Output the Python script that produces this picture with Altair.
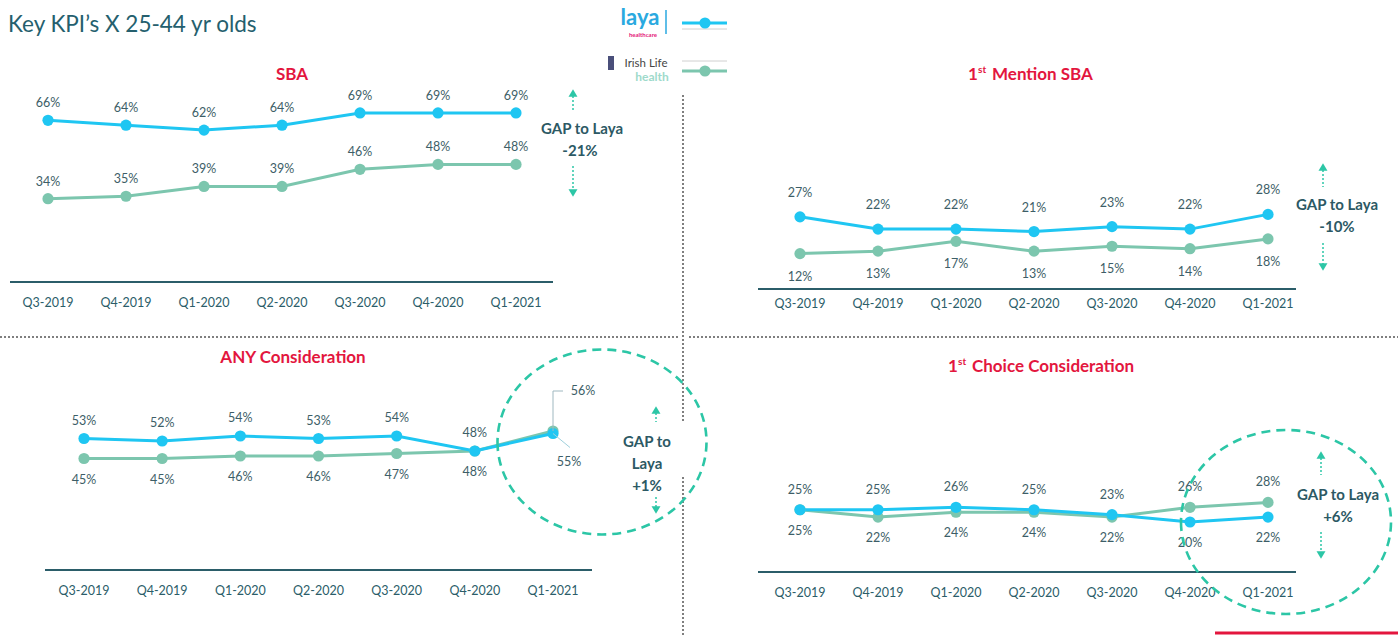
import altair as alt
import pandas as pd

# ---------------- data ----------------
quarters = ["Q3-2019", "Q4-2019", "Q1-2020", "Q2-2020", "Q3-2020", "Q4-2020", "Q1-2021"]
series_names = ["Irish Life Health", "Laya"]

sba_laya = [66, 64, 62, 64, 69, 69, 69]
sba_irish = [34, 35, 39, 39, 46, 48, 48]
first_mention_laya = [27, 22, 22, 21, 23, 22, 28]
first_mention_irish = [12, 13, 17, 13, 15, 14, 18]
any_laya = [53, 52, 54, 53, 54, 48, 55]
any_irish = [45, 45, 46, 46, 47, 48, 56]
first_choice_laya = [25, 25, 26, 25, 23, 20, 22]
first_choice_irish = [25, 22, 24, 24, 22, 26, 28]

main_title = "Key KPI\u2019s X 25-44 yr olds"

# ---------------- styles ----------------
LAYA = "#1fc6f2"
IRISH = "#7cc6ae"
LABEL = "#3d5e67"
AXIS = "#2b5d69"
RED = "#e3163e"
TEAL = "#2cc6a6"
GAPTXT = "#2c5964"
FONT = "Lato"

ONE = alt.Data(values=[{}])


def txt(s, x, y, size=12, color=LABEL, weight="normal", align="center", baseline="middle"):
    return alt.Chart(ONE).mark_text(
        text=s, font=FONT, fontSize=size, color=color, fontWeight=weight,
        align=align, baseline=baseline,
    ).encode(x=alt.value(x), y=alt.value(y))


def hrule(x0, x1, y, color, width=1.5, dash=None):
    kw = dict(color=color, strokeWidth=width)
    if dash:
        kw["strokeDash"] = dash
    return alt.Chart(ONE).mark_rule(**kw).encode(x=alt.value(x0), x2=alt.value(x1), y=alt.value(y))


def vrule(x, y0, y1, color, width=1.5, dash=None):
    kw = dict(color=color, strokeWidth=width)
    if dash:
        kw["strokeDash"] = dash
    return alt.Chart(ONE).mark_rule(**kw).encode(x=alt.value(x), y=alt.value(y0), y2=alt.value(y1))


def arrows(x, top, mid_top, mid_bottom, bottom):
    up_head = alt.Chart(ONE).mark_point(shape="triangle-up", filled=True, size=80, color=TEAL, opacity=1).encode(
        x=alt.value(x), y=alt.value(top + 5))
    down_head = alt.Chart(ONE).mark_point(shape="triangle-down", filled=True, size=80, color=TEAL, opacity=1).encode(
        x=alt.value(x), y=alt.value(bottom - 5))
    return [vrule(x, top + 8, mid_top, TEAL, 1.5, [2, 2]), up_head,
            vrule(x, mid_bottom, bottom - 8, TEAL, 1.5, [2, 2]), down_head]


def ellipse(cx, cy, w, h):
    ratio = h / w
    path = f"M -1 0 A 1 {ratio:.3f} 0 1 0 1 0 A 1 {ratio:.3f} 0 1 0 -1 0 Z"
    return alt.Chart(ONE).mark_point(
        shape=path, size=w * w, filled=False, color=TEAL, strokeWidth=2.6,
        strokeDash=[9, 6], opacity=1,
    ).encode(x=alt.value(cx), y=alt.value(cy))


def panel(laya, irish, x_range, y_range, y_domain, axis_x, axis_y, tick_y,
          above_dy, below_dy, irish_always_above=False, callout_last=False):
    rows = []
    for name, vals, other in [("Irish Life Health", irish, laya), ("Laya", laya, irish)]:
        for i, q in enumerate(quarters):
            v, o = vals[i], other[i]
            if name == "Laya":
                side = "above" if v >= o else "below"
            else:
                side = "above" if (v > o or irish_always_above) else "below"
            rows.append(dict(quarter=q, series=name, value=v, side=side,
                             label=f"{v}%", last=(i == len(quarters) - 1)))
    df = pd.DataFrame(rows)

    xenc = alt.X("quarter:N", sort=quarters,
                 scale=alt.Scale(type="point", domain=quarters, range=x_range, padding=0), axis=None)
    yenc = alt.Y("value:Q", scale=alt.Scale(domain=y_domain, range=y_range, nice=False, zero=False), axis=None)

    base = alt.Chart(df).encode(x=xenc, y=yenc)
    layers = [
        alt.Chart(ONE).mark_rule(color=AXIS, strokeWidth=2).encode(
            x=alt.value(axis_x[0]), x2=alt.value(axis_x[1]), y=alt.value(axis_y))
    ]
    for name, col in [("Irish Life Health", IRISH), ("Laya", LAYA)]:
        layers.append(base.transform_filter(alt.datum.series == name)
                      .mark_line(color=col, strokeWidth=3))
    for name, col in [("Irish Life Health", IRISH), ("Laya", LAYA)]:
        layers.append(base.transform_filter(alt.datum.series == name)
                      .mark_circle(color=col, size=125, opacity=1))

    normal = base
    if callout_last:
        normal = base.transform_filter("!datum.last")
    layers.append(normal.transform_filter(alt.datum.side == "above").mark_text(
        font=FONT, fontSize=12.5, color=LABEL, dy=above_dy, baseline="middle").encode(text="label:N"))
    layers.append(normal.transform_filter(alt.datum.side == "below").mark_text(
        font=FONT, fontSize=12.5, color=LABEL, dy=below_dy, baseline="middle").encode(text="label:N"))

    if callout_last:
        last = base.transform_filter("datum.last")
        up = last.transform_filter(alt.datum.side == "above")
        dn = last.transform_filter(alt.datum.side == "below")
        layers += [
            up.mark_rule(color="#9fb8c0", strokeWidth=1, y2Offset=-40).encode(y2="value:Q"),
            up.mark_rule(color="#9fb8c0", strokeWidth=1, yOffset=-40, y2Offset=-40, x2Offset=10).encode(
                x2="quarter:N", y2="value:Q"),
            up.mark_text(font=FONT, fontSize=12.5, color=LABEL, dx=30, dy=-40, baseline="middle").encode(text="label:N"),
            dn.mark_rule(color="#9fd0dc", strokeWidth=1, x2Offset=17, y2Offset=14).encode(
                x2="quarter:N", y2="value:Q"),
            dn.mark_text(font=FONT, fontSize=12.5, color=LABEL, dx=16, dy=28, baseline="middle").encode(text="label:N"),
        ]

    ticks = alt.Chart(pd.DataFrame({"quarter": quarters})).mark_text(
        font=FONT, fontSize=12.5, color=AXIS, baseline="middle").encode(
        x=xenc, y=alt.value(tick_y), text="quarter:N")
    layers.append(ticks)
    return alt.layer(*layers)


def gap_text(laya, irish):
    return f"{irish[-1] - laya[-1]:+d}%"


p_sba = panel(sba_laya, sba_irish, [48, 516], [282, 86], [0, 80], (10, 553), 282, 303,
              above_dy=-17, below_dy=20, irish_always_above=True)
p_fm = panel(first_mention_laya, first_mention_irish, [800, 1268], [283, 87], [0, 80], (758, 1296), 289, 304,
             above_dy=-24, below_dy=23)
p_any = panel(any_laya, any_irish, [84, 553], [571, 371], [0, 80], (45, 592), 570, 591,
              above_dy=-18, below_dy=21, callout_last=True)
p_fc = panel(first_choice_laya, first_choice_irish, [800, 1268], [571, 375], [0, 80], (758, 1296), 572, 593,
             above_dy=-20, below_dy=21)

deco = []
# main title
deco.append(txt(main_title, 8, 25, size=22.5, color="#255f6e", align="left"))
# panel titles
deco.append(txt("SBA", 292, 75, size=17, color=RED, weight="bold"))
deco.append(txt("ANY Consideration", 293, 358, size=17, color=RED, weight="bold"))
for x0, y0, rest in [(968, 75, "Mention SBA"), (948, 367, "Choice Consideration")]:
    deco.append(txt("1", x0, y0, size=17, color=RED, weight="bold", align="left"))
    deco.append(txt("st", x0 + 10, y0 - 5, size=10, color=RED, weight="bold", align="left"))
    deco.append(txt(rest, x0 + 24, y0, size=17, color=RED, weight="bold", align="left"))

# legend (logos as text)
deco.append(txt("laya", 640, 18, size=22, color="#2aa9e0", weight="bold"))
deco.append(txt("healthcare", 643, 35, size=6, color="#e4187a", weight="bold"))
deco.append(vrule(666, 10, 34, "#2aa9e0", 1.5))
deco.append(hrule(682, 727, 29, "#d0d0d0", 1))
deco.append(hrule(682, 727, 23, LAYA, 3))
deco.append(alt.Chart(ONE).mark_circle(color=LAYA, size=125, opacity=1).encode(x=alt.value(705), y=alt.value(23)))
deco.append(alt.Chart(ONE).mark_rect(color="#4a4f7a").encode(
    x=alt.value(608), x2=alt.value(614), y=alt.value(56), y2=alt.value(70)))
deco.append(txt("Irish Life", 646, 64, size=11.5, color="#444444"))
deco.append(txt("health", 652, 77, size=12, color="#9edacb", weight="bold"))
deco.append(hrule(682, 727, 61, "#d0d0d0", 1))
deco.append(hrule(682, 727, 71, IRISH, 3))
deco.append(alt.Chart(ONE).mark_circle(color=IRISH, size=125, opacity=1).encode(x=alt.value(705), y=alt.value(71)))

# dividers
deco.append(vrule(683, 95, 423, "#555555", 1.5, [2, 2]))
deco.append(vrule(683, 477, 635, "#555555", 1.5, [2, 2]))
deco.append(hrule(0, 679, 337, "#555555", 1.5, [2, 2]))
deco.append(hrule(689, 1398, 337, "#555555", 1.5, [2, 2]))

# gap annotations
GS = 15
deco.append(txt("GAP to Laya", 582, 129, size=GS, color=GAPTXT, weight="bold"))
deco.append(txt(gap_text(sba_laya, sba_irish), 580, 151, size=GS, color=GAPTXT, weight="bold"))
deco += arrows(573, 88, 110, 166, 198)

deco.append(txt("GAP to Laya", 1337, 205, size=GS, color=GAPTXT, weight="bold"))
deco.append(txt(gap_text(first_mention_laya, first_mention_irish), 1337, 227, size=GS, color=GAPTXT, weight="bold"))
deco += arrows(1323, 162, 187, 243, 272)

deco.append(txt("GAP to", 647, 442, size=GS, color=GAPTXT, weight="bold"))
deco.append(txt("Laya", 647, 464, size=GS, color=GAPTXT, weight="bold"))
deco.append(txt(gap_text(any_laya, any_irish), 647, 486, size=GS, color=GAPTXT, weight="bold"))
deco += arrows(656, 405, 422, 497, 515)

deco.append(txt("GAP to Laya", 1338, 495, size=GS, color=GAPTXT, weight="bold"))
deco.append(txt(gap_text(first_choice_laya, first_choice_irish), 1338, 517, size=GS, color=GAPTXT, weight="bold"))
deco += arrows(1321, 450, 475, 532, 560)

# dashed circles
deco.append(ellipse(602, 442, 209, 185))
deco.append(ellipse(1286, 522, 210, 184))

# red footer stroke
deco.append(hrule(1215, 1398, 633, RED, 3))

chart = alt.layer(p_sba, p_fm, p_any, p_fc, *deco).resolve_scale(
    x="independent", y="independent"
).properties(
    width=1398, height=635, autosize=alt.AutoSizeParams(type="none"), padding=0,
    background="white",
).configure_view(stroke=None)

chart.save("out.html", embed_options={"renderer": "svg", "actions": False})
